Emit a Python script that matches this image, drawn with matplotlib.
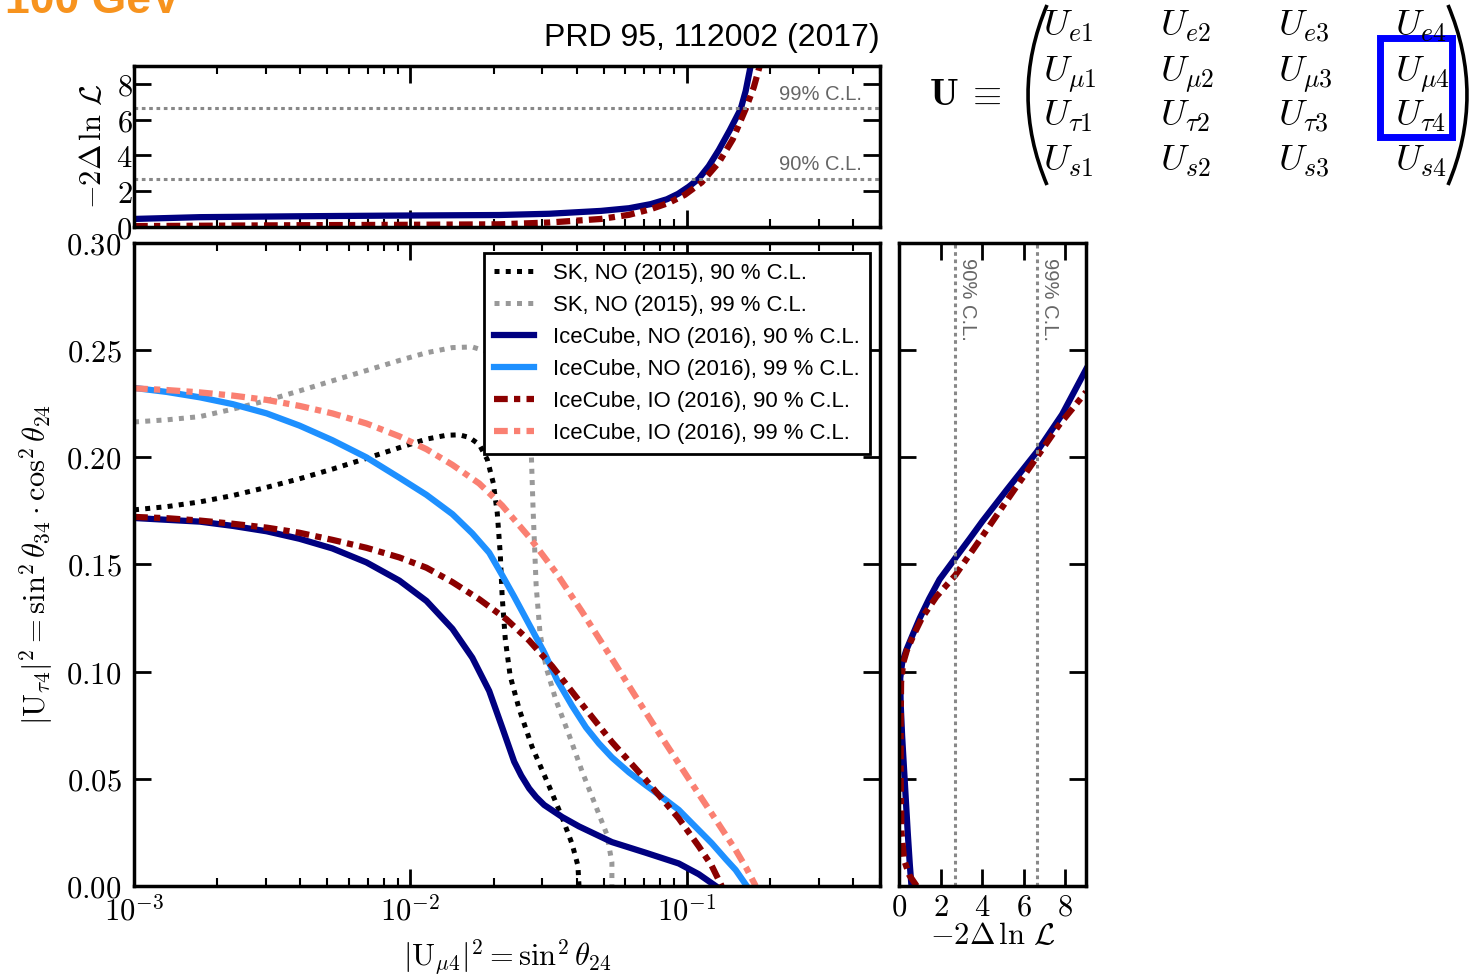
import numpy as np
import matplotlib
matplotlib.use("Agg")
import matplotlib.pyplot as plt
from matplotlib.ticker import LogLocator, FixedLocator, FuncFormatter, NullFormatter
from matplotlib.patches import Rectangle, PathPatch
from matplotlib.path import Path

plt.rcParams["mathtext.fontset"] = "cm"
plt.rcParams["font.family"] = ["Liberation Sans", "DejaVu Sans"]

# ---------------- data ----------------
# SK, NO (2015), 90 % C.L.
sk90_x = [0.001, 0.001315, 0.00173, 0.00228, 0.00302, 0.00397, 0.00522, 0.00693, 0.00912,
          0.01143, 0.01349, 0.01503, 0.01633, 0.01774, 0.01897, 0.01995, 0.02062, 0.02114,
          0.02148, 0.02205, 0.02296, 0.02475, 0.02754, 0.03177, 0.0354, 0.03848, 0.04037,
          0.04074]
sk90_y = [0.1755, 0.177, 0.1792, 0.1822, 0.186, 0.190, 0.1945, 0.1995, 0.2045,
          0.2085, 0.2103, 0.2105, 0.2093, 0.206, 0.199, 0.188, 0.174, 0.155,
          0.135, 0.115, 0.098, 0.0825, 0.065, 0.0465, 0.032, 0.0195, 0.0095,
          0.0]

# SK, NO (2015), 99 % C.L.
sk99_x = [0.001, 0.001315, 0.00173, 0.00228, 0.00302, 0.00397, 0.00522, 0.00693, 0.00912,
          0.01143, 0.01419, 0.01675, 0.01928, 0.02205, 0.02475, 0.02642, 0.02736, 0.0278,
          0.02851, 0.02944, 0.03097, 0.03365, 0.0375, 0.04178, 0.04693, 0.0514, 0.05358,
          0.05358]
sk99_y = [0.2165, 0.2175, 0.219, 0.2225, 0.2265, 0.231, 0.2357, 0.2405, 0.2452,
          0.2488, 0.2512, 0.2515, 0.249, 0.243, 0.232, 0.218, 0.203, 0.175,
          0.140, 0.118, 0.102, 0.0865, 0.0705, 0.0535, 0.037, 0.024, 0.011,
          0.0]

# IceCube, NO (2016), 90 % C.L.
ic_no90_x = [0.001, 0.00173, 0.00228, 0.00302, 0.00397, 0.00522, 0.00693, 0.00912, 0.01143,
             0.01419, 0.01675, 0.01928, 0.02148, 0.02374, 0.02518, 0.0269, 0.02851, 0.03048,
             0.0354, 0.04074, 0.05358, 0.07111, 0.09354, 0.1105, 0.1272]
ic_no90_y = [0.1717, 0.170, 0.168, 0.1655, 0.162, 0.1575, 0.151, 0.1425, 0.133,
             0.120, 0.1065, 0.091, 0.074, 0.058, 0.0515, 0.0455, 0.0415, 0.0378,
             0.0322, 0.0278, 0.0205, 0.0155, 0.0105, 0.0055, 0.0]

# IceCube, NO (2016), 99 % C.L.
ic_no99_x = [0.001, 0.001315, 0.00173, 0.00228, 0.00302, 0.00397, 0.00522, 0.00693, 0.00912,
             0.01143, 0.01419, 0.01675, 0.01928, 0.02148, 0.02374, 0.0269, 0.03048, 0.03396,
             0.03848, 0.04317, 0.04808, 0.05358, 0.0618, 0.07111, 0.08128, 0.09354, 0.1077,
             0.1230, 0.1384, 0.1502, 0.1648]
ic_no99_y = [0.2324, 0.2305, 0.228, 0.2248, 0.2205, 0.2148, 0.208, 0.200, 0.1905,
             0.1825, 0.1735, 0.1645, 0.1555, 0.145, 0.135, 0.122, 0.109, 0.096,
             0.084, 0.074, 0.0665, 0.060, 0.053, 0.047, 0.0415, 0.0355, 0.0275,
             0.020, 0.0125, 0.0075, 0.0]

# IceCube, IO (2016), 90 % C.L.
ic_io90_x = [0.001, 0.001315, 0.00173, 0.00228, 0.00302, 0.00397, 0.00522, 0.00693, 0.00912,
             0.01143, 0.01419, 0.01774, 0.02223, 0.0269, 0.03258, 0.04074, 0.05358, 0.07111,
             0.09354, 0.1105, 0.1230, 0.1337]
ic_io90_y = [0.1722, 0.1716, 0.1705, 0.169, 0.1672, 0.1648, 0.1615, 0.1578, 0.1533,
             0.1485, 0.1418, 0.1338, 0.1245, 0.1145, 0.1025, 0.0865, 0.0672, 0.0495,
             0.0315, 0.0185, 0.0095, 0.0]

# IceCube, IO (2016), 99 % C.L.
ic_io99_x = [0.001, 0.001315, 0.00173, 0.00228, 0.00302, 0.00397, 0.00522, 0.00693, 0.00912,
             0.01143, 0.01419, 0.01774, 0.02148, 0.0269, 0.03365, 0.04178, 0.05224, 0.06546,
             0.08128, 0.1016, 0.1272, 0.1502, 0.1648, 0.1775]
ic_io99_y = [0.2322, 0.2314, 0.2303, 0.2288, 0.2268, 0.224, 0.2205, 0.2158, 0.2098,
             0.2038, 0.1965, 0.1878, 0.1775, 0.1628, 0.1462, 0.128, 0.1083, 0.0882,
             0.0692, 0.050, 0.031, 0.0168, 0.008, 0.0]

# profile likelihood vs |U_mu4|^2 (top panel)
prof_mu_x_no = [0.001, 0.00173, 0.00397, 0.00912, 0.02095, 0.03177, 0.0489, 0.0618, 0.0741,
                0.0847, 0.0929, 0.1016, 0.1105, 0.1200, 0.1305, 0.1429, 0.1567, 0.1633, 0.1702]
prof_mu_no = [0.45, 0.55, 0.6, 0.64, 0.67, 0.74, 0.9, 1.05, 1.28,
              1.55, 1.85, 2.25, 2.7, 3.4, 4.3, 5.4, 6.6, 7.6, 9.0]
prof_mu_x_io = [0.001, 0.00397, 0.00912, 0.02095, 0.03177, 0.0489, 0.0618, 0.0741, 0.0861,
                0.0984, 0.1133, 0.1305, 0.1466, 0.1633, 0.1746, 0.1836]
prof_mu_io = [0.05, 0.1, 0.12, 0.15, 0.25, 0.45, 0.68, 1.0, 1.35,
              1.8, 2.5, 3.6, 4.9, 6.6, 7.8, 9.0]

# profile likelihood vs |U_tau4|^2 (side panel)
prof_tau_y_no = [0.0, 0.01, 0.025, 0.04, 0.055, 0.07, 0.085, 0.097, 0.104, 0.11,
                 0.117, 0.125, 0.134, 0.143, 0.153, 0.162, 0.170, 0.185, 0.2025,
                 0.22, 0.241]
prof_tau_no = [0.6, 0.52, 0.42, 0.33, 0.24, 0.15, 0.08, 0.06, 0.15, 0.35,
               0.65, 1.0, 1.45, 1.95, 2.71, 3.4, 4.0, 5.2, 6.63,
               7.85, 9.0]
prof_tau_y_io = [0.0, 0.005, 0.012, 0.025, 0.05, 0.075, 0.095, 0.104, 0.11, 0.117,
                 0.125, 0.135, 0.145, 0.163, 0.18, 0.2, 0.215, 0.2305]
prof_tau_io = [0.85, 0.5, 0.25, 0.12, 0.08, 0.08, 0.1, 0.2, 0.38, 0.7,
               1.1, 1.8, 2.71, 4.0, 5.2, 6.63, 7.7, 9.0]

cl_levels = [2.71, 6.63]
cl_names = ["90% C.L.", "99% C.L."]

labels = ["SK, NO (2015), 90 % C.L.", "SK, NO (2015), 99 % C.L.",
          "IceCube, NO (2016), 90 % C.L.", "IceCube, NO (2016), 99 % C.L.",
          "IceCube, IO (2016), 90 % C.L.", "IceCube, IO (2016), 99 % C.L."]

# ---------------- styles ----------------
DOT = (1.0, 1.25)
DASHDOT = (2.2, 1.0, 1.0, 1.0)
JOIN = dict(solid_joinstyle="round", dash_joinstyle="round")
sty = [
    dict(color="black", lw=3.6, dashes=DOT),
    dict(color="#999999", lw=3.6, dashes=DOT),
    dict(color="#000080", lw=4.5, **JOIN),
    dict(color="#1e90ff", lw=4.5, **JOIN),
    dict(color="#8b0000", lw=4.5, dashes=DASHDOT),
    dict(color="#fa8072", lw=4.5, dashes=DASHDOT),
]
CL_STYLE = dict(color="#888888", lw=2.2, dashes=(1.2, 1.2))

W, H = 1476, 977
fig = plt.figure(figsize=(W / 100, H / 100), dpi=100)


def rect(x0, y0, x1, y1):
    return [x0 / W, 1 - y1 / H, (x1 - x0) / W, (y1 - y0) / H]


def fpt(x, y):
    return (x / W, 1 - y / H)


ax_top = fig.add_axes(rect(134, 66, 880, 227))
ax = fig.add_axes(rect(134, 243, 880, 886))
ax_side = fig.add_axes(rect(899, 243, 1086, 886))

log_fmt = FuncFormatter(lambda v, p: r"$10^{%d}$" % int(round(np.log10(v))))


def style_axes(a):
    for s in a.spines.values():
        s.set_linewidth(2.5)
    a.tick_params(which="both", direction="in", top=True, right=True)
    a.tick_params(which="major", length=12, width=2, labelsize=22)
    a.tick_params(which="minor", length=6, width=1.5)


# ---------------- main panel ----------------
series = [(sk90_x, sk90_y), (sk99_x, sk99_y), (ic_no90_x, ic_no90_y),
          (ic_no99_x, ic_no99_y), (ic_io90_x, ic_io90_y), (ic_io99_x, ic_io99_y)]
for (xs, ys), st, lab in zip(series, sty, labels):
    ax.plot(xs, ys, label=lab, **st)

ax.set_xscale("log")
ax.set_xlim(1e-3, 0.5)
ax.set_ylim(0, 0.30)
ax.xaxis.set_major_locator(LogLocator(base=10))
ax.xaxis.set_minor_locator(LogLocator(base=10, subs=np.arange(2, 10)))
ax.xaxis.set_major_formatter(log_fmt)
ax.xaxis.set_minor_formatter(NullFormatter())
yt = np.arange(0, 0.301, 0.05)
ax.yaxis.set_major_locator(FixedLocator(yt))
ax.yaxis.set_major_formatter(FuncFormatter(lambda v, p: r"$%.2f$" % v))
style_axes(ax)
ax.tick_params(axis="y", pad=9)
ax.tick_params(axis="x", pad=7)
ax.set_xlabel(r"$|\mathrm{U}_{\mu4}|^2 = \sin^2\theta_{24}$", fontsize=22)
ax.xaxis.set_label_coords(0.5, -0.08)
ax.set_ylabel(r"$|\mathrm{U}_{\tau4}|^2 = \sin^2\theta_{34}\cdot\cos^2\theta_{24}$", fontsize=22)
ax.yaxis.set_label_coords(-0.106, 0.5)

leg = ax.legend(loc="upper right", fontsize=15.9, frameon=True, fancybox=False,
                edgecolor="black", framealpha=1, handlelength=1.8, handletextpad=0.9,
                borderaxespad=0.45, labelspacing=0.5, borderpad=0.45)
leg.get_frame().set_linewidth(2)

# ---------------- top panel ----------------
ax_top.plot(prof_mu_x_no, prof_mu_no, **sty[2])
ax_top.plot(prof_mu_x_io, prof_mu_io, **sty[4])
for lvl, name in zip(cl_levels, cl_names):
    ax_top.axhline(lvl, **CL_STYLE)
    ax_top.text(0.976, lvl + 0.25, name, transform=ax_top.get_yaxis_transform(),
                ha="right", va="bottom", fontsize=14.5, color="#666666")
ax_top.set_xscale("log")
ax_top.set_xlim(1e-3, 0.5)
ax_top.set_ylim(0, 9)
ax_top.xaxis.set_major_locator(LogLocator(base=10))
ax_top.xaxis.set_minor_locator(LogLocator(base=10, subs=np.arange(2, 10)))
ax_top.xaxis.set_major_formatter(NullFormatter())
ax_top.xaxis.set_minor_formatter(NullFormatter())
ax_top.yaxis.set_major_locator(FixedLocator([0, 2, 4, 6, 8]))
ax_top.yaxis.set_major_formatter(FuncFormatter(lambda v, p: r"$%d$" % v))
style_axes(ax_top)
ax_top.tick_params(axis="y", pad=1)
ax_top.set_ylabel(r"$-2\Delta\,\ln\,\mathcal{L}$", fontsize=22)
ax_top.yaxis.set_label_coords(-0.035, 0.5)

# ---------------- side panel ----------------
ax_side.plot(prof_tau_no, prof_tau_y_no, **sty[2])
ax_side.plot(prof_tau_io, prof_tau_y_io, **sty[4])
for lvl, name in zip(cl_levels, cl_names):
    ax_side.axvline(lvl, **CL_STYLE)
    ax_side.text(lvl + 0.6, 0.977, name, transform=ax_side.get_xaxis_transform(),
                 ha="center", va="top", rotation=270, fontsize=14.5, color="#666666")
ax_side.set_xlim(0, 9)
ax_side.set_ylim(0, 0.30)
ax_side.xaxis.set_major_locator(FixedLocator([0, 2, 4, 6, 8]))
ax_side.xaxis.set_major_formatter(FuncFormatter(lambda v, p: r"$%d$" % v))
ax_side.yaxis.set_major_locator(FixedLocator(yt))
ax_side.yaxis.set_major_formatter(NullFormatter())
style_axes(ax_side)
ax_side.tick_params(axis="x", pad=5)
ax_side.set_xlabel(r"$-2\Delta\,\ln\,\mathcal{L}$", fontsize=22)
ax_side.xaxis.set_label_coords(0.5, -0.054)

# ---------------- header texts ----------------
fig.text(*fpt(5, 13), "100 GeV", fontsize=32, fontweight="bold", color="#f7931e",
         ha="left", va="baseline")
fig.text(*fpt(880, 46), "PRD 95, 112002 (2017)", fontsize=23, ha="right", va="baseline")

# ---------------- mixing matrix ----------------
fig.text(*fpt(929, 105), r"$\mathbf{U}$", fontsize=27, ha="left", va="baseline")
fig.text(*fpt(966, 105), r"$\equiv$", fontsize=27, ha="left", va="baseline")
flavours = ["e", r"\mu", r"\tau", "s"]
row_base = [36, 81, 126, 171]
col_left = [1043, 1160, 1278, 1395]
for r, fl in enumerate(flavours):
    for c in range(4):
        fig.text(*fpt(col_left[c], row_base[r]), r"$U_{%s%d}$" % (fl, c + 1),
                 fontsize=26.5, ha="left", va="baseline")

for xe, xc in [(1047, 1009), (1448, 1486)]:
    verts = [fpt(xe, 5), fpt(xc, 95), fpt(xe, 185)]
    pp = PathPatch(Path(verts, [Path.MOVETO, Path.CURVE3, Path.CURVE3]),
                   fill=False, lw=2.6, edgecolor="black", transform=fig.transFigure)
    fig.add_artist(pp)

x0, y0 = fpt(1380, 137)
x1, y1 = fpt(1452, 38)
fig.add_artist(Rectangle((x0, y0), x1 - x0, y1 - y0, fill=False, lw=5,
                         edgecolor="#0000ff", transform=fig.transFigure))

fig.savefig("out.png", dpi=100)
